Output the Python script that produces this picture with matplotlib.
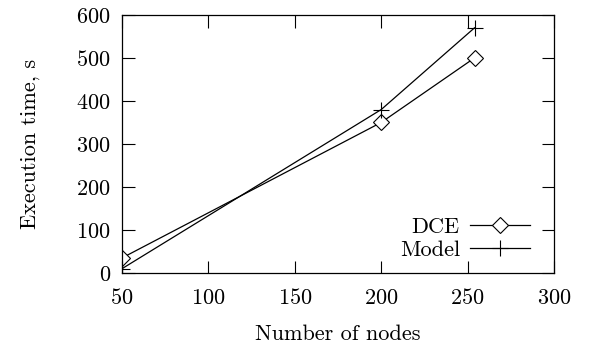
import matplotlib
matplotlib.use("Agg")
import matplotlib.pyplot as plt

nodes = [50, 200, 254]
dce = [35, 350, 500]
model = [10, 380, 570]
xticks = [50, 100, 150, 200, 250, 300]
yticks = [0, 100, 200, 300, 400, 500, 600]

plt.rcParams['font.family'] = ['cmr10', 'DejaVu Serif']
plt.rcParams['axes.formatter.use_mathtext'] = True
FS = 16
plt.rcParams['font.size'] = FS

fig = plt.figure(figsize=(5.97, 3.47), dpi=100)
ax = fig.add_axes([0.2044, 0.2133, 0.928 - 0.2044, 0.957 - 0.2133])

ax.plot(nodes, dce, color='black', lw=0.9, marker='D', markersize=8,
        markerfacecolor='white', markeredgecolor='black', markeredgewidth=0.8, label='DCE')
ax.plot(nodes, model, color='black', lw=0.9, marker='+', markersize=11,
        markeredgewidth=0.8, label='Model')

ax.set_xlim(50, 300)
ax.set_ylim(0, 600)
ax.set_xticks(xticks)
ax.set_yticks(yticks)
ax.tick_params(direction='in', length=9, width=0.8, top=True, right=True, labelsize=FS)
ax.tick_params(axis='x', pad=11)
ax.tick_params(axis='y', pad=8)
for s in ax.spines.values():
    s.set_linewidth(0.9)

ax.set_xlabel('Number of nodes', fontsize=FS, labelpad=12)
ax.set_ylabel('Execution time, s', fontsize=FS, labelpad=26)

ax.legend(loc='lower right', bbox_to_anchor=(0.944, 0.05), frameon=False, markerfirst=False,
          handlelength=2.7, handletextpad=0.45, labelspacing=0.15, fontsize=FS, borderaxespad=0,
          borderpad=0)

fig.savefig('out.png', dpi=100)
